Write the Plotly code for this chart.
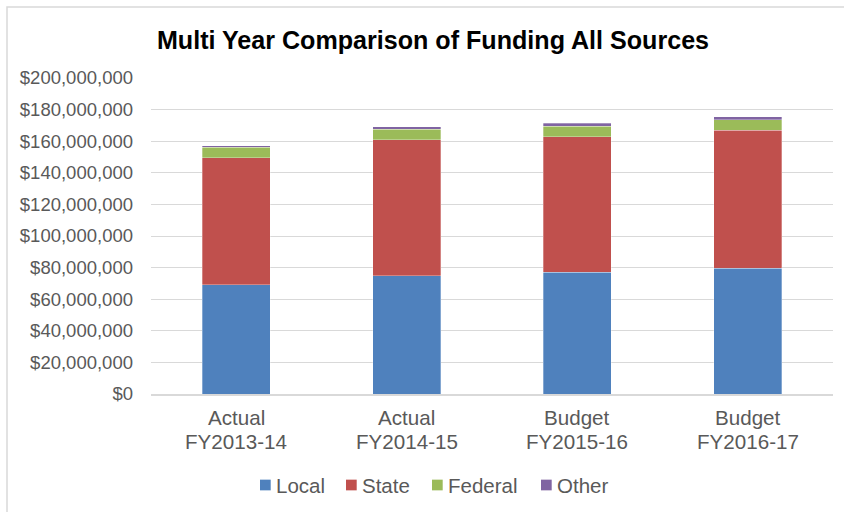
import plotly.graph_objects as go

# Funding by source, in dollars
report_type = ["Actual", "Actual", "Budget", "Budget"]
fiscal_years = ["FY2013-14", "FY2014-15", "FY2015-16", "FY2016-17"]
local_funds = [69.0e6, 74.7e6, 77.2e6, 79.6e6]
state_funds = [80.6e6, 86.3e6, 85.5e6, 87.3e6]
federal_funds = [6.5e6, 6.7e6, 6.9e6, 6.7e6]
other_funds = [0.9e6, 1.3e6, 1.7e6, 1.9e6]

series_names = ["Local", "State", "Federal", "Other"]
series_values = [local_funds, state_funds, federal_funds, other_funds]
series_colors = ["#4F81BD", "#C0504D", "#9BBB59", "#8064A2"]

tick_vals = [i * 20e6 for i in range(11)]
tick_text = ["$0"] + [f"${v:,.0f}" for v in tick_vals[1:]]

# Page geometry (pixels)
W, H = 844, 512
ML, MR, MT, MB = 151, 11, 78, 118
PW, PH = W - ML - MR, H - MT - MB


def paper_x(px):
    return (px - ML) / PW


def paper_y(py):
    return (H - MB - py) / PH


font_family = "Liberation Sans, Arial, sans-serif"
text_grey = "#595959"

fig = go.Figure()
for name, vals, color in zip(series_names, series_values, series_colors):
    fig.add_trace(go.Bar(
        x=fiscal_years, y=vals, name=name,
        marker=dict(color=color, line=dict(color="rgba(255,255,255,0.6)", width=0.5)),
        showlegend=False,
    ))

annotations = []
# Two-line category labels under each bar
for rtype, fy in zip(report_type, fiscal_years):
    annotations.append(dict(
        x=fy, xref="x", y=paper_y(417.5), yref="paper",
        text=rtype, showarrow=False, xanchor="center", yanchor="middle",
        font=dict(family=font_family, size=20.6, color=text_grey), borderpad=0,
    ))
    annotations.append(dict(
        x=fy, xref="x", y=paper_y(441.5), yref="paper",
        text=fy, showarrow=False, xanchor="center", yanchor="middle",
        font=dict(family=font_family, size=20.6, color=text_grey), borderpad=0,
    ))

# Legend row: colour key squares followed by series names
legend_left = [260, 346, 432, 541]
legend_mid = 485
key_size = 10.7
shapes = [dict(
    type="rect", xref="paper", yref="paper",
    x0=paper_x(7), x1=paper_x(W + 10),
    y0=paper_y(H + 10), y1=paper_y(7),
    line=dict(color="#d9d9d9", width=1.5), layer="below",
)]
for name, color, lx in zip(series_names, series_colors, legend_left):
    shapes.append(dict(
        type="rect", xref="paper", yref="paper",
        x0=paper_x(lx), x1=paper_x(lx + key_size),
        y0=paper_y(legend_mid + key_size / 2), y1=paper_y(legend_mid - key_size / 2),
        fillcolor=color, line=dict(width=0),
    ))
    annotations.append(dict(
        x=paper_x(lx + key_size + 4), xref="paper", y=paper_y(legend_mid), yref="paper",
        text=name, showarrow=False, xanchor="left", yanchor="middle",
        font=dict(family=font_family, size=20.5, color=text_grey), borderpad=0,
    ))

fig.update_layout(
    width=W, height=H,
    margin=dict(l=ML, r=MR, t=MT, b=MB, pad=0),
    barmode="stack",
    bargap=0.6,
    paper_bgcolor="white",
    plot_bgcolor="white",
    font=dict(family=font_family, color=text_grey, size=19),
    title=dict(
        text="<b>Multi Year Comparison of Funding All Sources</b>",
        font=dict(family=font_family, size=25.1, color="black"),
        x=433 / W, xref="container", xanchor="center",
        y=1 - 40 / H, yref="container", yanchor="middle",
    ),
    showlegend=False,
    xaxis=dict(
        showgrid=False,
        showline=True, linecolor="#d9d9d9", linewidth=1.5,
        showticklabels=False, ticks="",
    ),
    yaxis=dict(
        range=[0, 200e6],
        tickvals=tick_vals, ticktext=tick_text,
        showgrid=True, gridcolor="#d9d9d9", gridwidth=1.3,
        zeroline=False, showline=False,
        ticks="", ticklabelstandoff=17,
        tickfont=dict(size=18.5, color=text_grey),
    ),
    shapes=shapes,
    annotations=annotations,
)

fig.write_html("out.html")
